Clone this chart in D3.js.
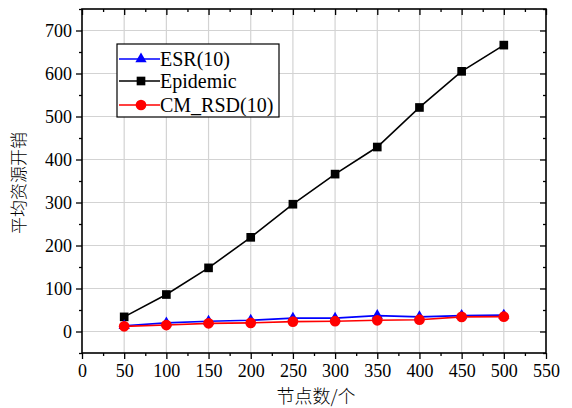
<!DOCTYPE html>
<html><head><meta charset="utf-8">
<script src="https://cdn.jsdelivr.net/npm/d3@7/dist/d3.min.js"></script>
<style>body{margin:0;background:#fff}svg{display:block}</style>
</head><body>
<script>
const nodes = [50,100,150,200,250,300,350,400,450,500];
const esr = [13.5,20,24,26,31,31,37,34,37,38];
const epidemic = [34,86,148,219,296,366,429,521,605,666];
const cmrsd = [12,15,19,20,23,24,26,27.5,34,34.5];
const xTicks = [0,50,100,150,200,250,300,350,400,450,500,550];
const yTicks = [0,100,200,300,400,500,600,700];
const xLabel = "节点数/个";
const yLabel = "平均资源开销";
const seriesNames = ["ESR(10)","Epidemic","CM_RSD(10)"];

const W=572,H=408;
const svg=d3.select("body").append("svg").attr("width",W).attr("height",H);
const L=82,R=546,T=9,B=353;
const x=d3.scaleLinear().domain([0,550]).range([L,R]);
const y=d3.scaleLinear().domain([-50,750]).range([B,T]);
const SERIF='"Liberation Serif"';
const CJK='"Noto Sans CJK SC"';

// grid
const g=svg.append("g");
g.selectAll("line.gx").data(xTicks.filter(d=>d>0&&d<550)).enter().append("line")
 .attr("x1",d=>x(d)).attr("x2",d=>x(d)).attr("y1",T).attr("y2",B).attr("stroke","#d3d3d3").attr("stroke-width",1.2);
g.selectAll("line.gy").data(yTicks).enter().append("line")
 .attr("y1",d=>y(d)).attr("y2",d=>y(d)).attr("x1",L).attr("x2",R).attr("stroke","#d3d3d3").attr("stroke-width",1.2);

// axes
const xMinor=d3.range(0,551,25), yMinor=d3.range(-50,751,50);
function axisStyle(sel){sel.select(".domain").remove();sel.attr("font-family",null);sel.selectAll("line").attr("stroke","#000").attr("stroke-width",1.3);}
const xb=svg.append("g").attr("transform",`translate(0,${B})`)
 .call(d3.axisBottom(x).tickValues(xTicks).tickSize(6).tickPadding(5).tickFormat(d3.format("d")));
axisStyle(xb);
xb.selectAll("text").style("font-family",SERIF).style("font-size","18px").attr("fill","#000");
svg.append("g").attr("transform",`translate(0,${B})`)
 .call(d3.axisBottom(x).tickValues(xMinor.filter(d=>d%50)).tickSize(3).tickFormat("")).call(axisStyle);
const yl=svg.append("g").attr("transform",`translate(${L},0)`)
 .call(d3.axisLeft(y).tickValues(yTicks).tickSize(6).tickPadding(4).tickFormat(d3.format("d")));
axisStyle(yl);
yl.selectAll("text").style("font-family",SERIF).style("font-size","18px").attr("fill","#000");
svg.append("g").attr("transform",`translate(${L},0)`)
 .call(d3.axisLeft(y).tickValues(yMinor.filter(d=>d%100)).tickSize(3).tickFormat("")).call(axisStyle);
// mirrored top/right ticks inward
svg.append("g").attr("transform",`translate(0,${T})`)
 .call(d3.axisBottom(x).tickValues(xTicks).tickSize(6).tickFormat("")).call(axisStyle);
svg.append("g").attr("transform",`translate(0,${T})`)
 .call(d3.axisBottom(x).tickValues(xMinor.filter(d=>d%50)).tickSize(3).tickFormat("")).call(axisStyle);
svg.append("g").attr("transform",`translate(${R},0)`)
 .call(d3.axisLeft(y).tickValues(yTicks).tickSize(6).tickFormat("")).call(axisStyle);
svg.append("g").attr("transform",`translate(${R},0)`)
 .call(d3.axisLeft(y).tickValues(yMinor.filter(d=>d%100)).tickSize(3).tickFormat("")).call(axisStyle);
svg.append("rect").attr("x",L).attr("y",T).attr("width",R-L).attr("height",B-T)
 .attr("fill","none").attr("stroke","#000").attr("stroke-width",1.6);

// titles
svg.append("text").style("font-family",CJK).style("font-size","18px").style("font-weight",300)
 .attr("x",316).attr("y",403).attr("text-anchor","middle").text(xLabel);
svg.append("text").style("font-family",CJK).style("font-size","17px").style("font-weight",300)
 .attr("transform",`translate(25,${(T+B)/2+2}) rotate(-90)`).attr("text-anchor","middle").text(yLabel);

// series
const series=[
 {name:seriesNames[1],vals:epidemic,color:"#000",shape:"square"},
 {name:seriesNames[0],vals:esr,color:"#0000ff",shape:"triangle"},
 {name:seriesNames[2],vals:cmrsd,color:"#ff0000",shape:"circle"}];
const line=d3.line().x(d=>x(d[0])).y(d=>y(d[1]));
const sym={square:d3.symbol().type(d3.symbolSquare).size(75),
 triangle:d3.symbol().type(d3.symbolTriangle).size(55),
 circle:d3.symbol().type(d3.symbolCircle).size(90)};
series.forEach(s=>{
 const pts=nodes.map((n,i)=>[n,s.vals[i]]);
 svg.append("path").attr("d",line(pts)).attr("fill","none").attr("stroke",s.color).attr("stroke-width",1.6);
 svg.selectAll(null).data(pts).enter().append("path")
  .attr("transform",d=>`translate(${x(d[0])},${y(d[1])})`).attr("d",sym[s.shape]()).attr("fill",s.color);
});

// legend
const lg=svg.append("g");
lg.append("rect").attr("x",117).attr("y",44).attr("width",162).attr("height",73)
 .attr("fill","#fff").attr("stroke","#000").attr("stroke-width",1.2);
const leg=[{name:seriesNames[0],color:"#0000ff",shape:"triangle",yy:59},
 {name:seriesNames[1],color:"#000",shape:"square",yy:81},
 {name:seriesNames[2],color:"#ff0000",shape:"circle",yy:105}];
leg.forEach(e=>{
 lg.append("line").attr("x1",119).attr("x2",160).attr("y1",e.yy).attr("y2",e.yy).attr("stroke",e.color).attr("stroke-width",1.6);
 lg.append("path").attr("transform",`translate(141,${e.yy})`).attr("d",sym[e.shape]()).attr("fill",e.color);
 lg.append("text").style("font-family",SERIF).style("font-size","20px").attr("x",160).attr("y",e.yy+7).text(e.name);
});
</script>
</body></html>
